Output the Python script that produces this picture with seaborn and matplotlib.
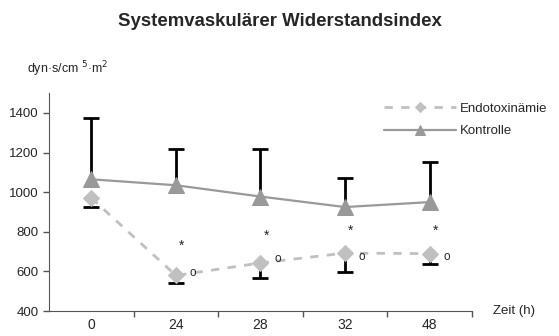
import numpy as np
import pandas as pd
import matplotlib
matplotlib.use("Agg")
import matplotlib.pyplot as plt
import seaborn as sns

# Data
zeit = ["0", "24", "28", "32", "48"]
kontrolle = [1065, 1035, 978, 925, 950]
kontrolle_sd_oben = [310, 185, 242, 145, 200]
endotox = [970, 580, 643, 693, 690]
endotox_sd_unten = [45, 40, 78, 96, 53]
stern_y = [730, 780, 805, 805]
kreis_y = [590, 665, 675, 675]

sns.set_style("ticks")
plt.rcParams['font.family'] = ['Liberation Sans', 'DejaVu Sans']

pos = np.arange(len(zeit))
df = pd.DataFrame({
    "pos": np.concatenate([pos, pos]),
    "wert": kontrolle + endotox,
    "gruppe": ["Kontrolle"] * len(zeit) + ["Endotoxinämie"] * len(zeit),
})

fig = plt.figure(figsize=(5.59, 3.36), dpi=100)
ax = fig.add_axes([0.088, 0.074, 0.756, 0.649])

# Error bars (one-sided, hide the cap on the zero side)
eb = ax.errorbar(pos, kontrolle, yerr=[np.zeros(len(pos)), kontrolle_sd_oben],
                 fmt="none", ecolor="black", elinewidth=2, capsize=6, capthick=2, zorder=1)
eb[1][0].set_visible(False)
eb = ax.errorbar(pos, endotox, yerr=[endotox_sd_unten, np.zeros(len(pos))],
                 fmt="none", ecolor="black", elinewidth=2, capsize=6, capthick=2, zorder=1)
eb[1][1].set_visible(False)

# Lines
sns.lineplot(data=df[df.gruppe == "Endotoxinämie"], x="pos", y="wert", ax=ax,
             color="#c0c0c0", marker="D", markersize=8, markeredgecolor="#c0c0c0",
             linewidth=2, linestyle=(0, (3, 3)), label="Endotoxinämie", zorder=3)
sns.lineplot(data=df[df.gruppe == "Kontrolle"], x="pos", y="wert", ax=ax,
             color="#999999", marker="^", markersize=11, markeredgecolor="#999999",
             linewidth=1.6, label="Kontrolle", zorder=3)

# Significance markers
for i, (sy, ky) in enumerate(zip(stern_y, kreis_y)):
    ax.text(pos[i + 1] + 0.07, sy, "*", ha="center", va="center", fontsize=10)
    ax.text(pos[i + 1] + 0.2, ky, "o", ha="center", va="center", fontsize=8.5)

ax.set_xlim(-0.5, 4.5)
ax.set_ylim(400, 1500)
ax.set_yticks([400, 600, 800, 1000, 1200, 1400])
ax.set_xticks(pos + 0.5)
ax.set_xticklabels([])
ax.set_xticks(pos, minor=True)
ax.set_xticklabels(zeit, minor=True)
ax.tick_params(axis="x", which="minor", length=0, pad=5)
ax.tick_params(axis="both", which="major", length=4, width=1, color="#555555")
ax.tick_params(labelsize=9.5)
ax.set_xlabel("")
ax.set_ylabel("")
for s in ["top", "right"]:
    ax.spines[s].set_visible(False)
for s in ["left", "bottom"]:
    ax.spines[s].set_color("#555555")

ax.legend(loc="upper right", bbox_to_anchor=(1.208, 1.01), frameon=False,
          fontsize=9.5, handlelength=5.5, handletextpad=0.3, labelspacing=0.75,
          markerscale=0.7)

fig.text(0.5, 0.935, "Systemvaskulärer Widerstandsindex", ha="center", va="center",
         fontsize=13.4, fontweight="bold")
fig.text(0.048, 0.795, "dyn·s/cm $^{5}$·m$^{2}$", ha="left", va="center", fontsize=9)
fig.text(0.882, 0.074, "Zeit (h)", ha="left", va="center", fontsize=9.5)

fig.savefig("out.png", dpi=100)
